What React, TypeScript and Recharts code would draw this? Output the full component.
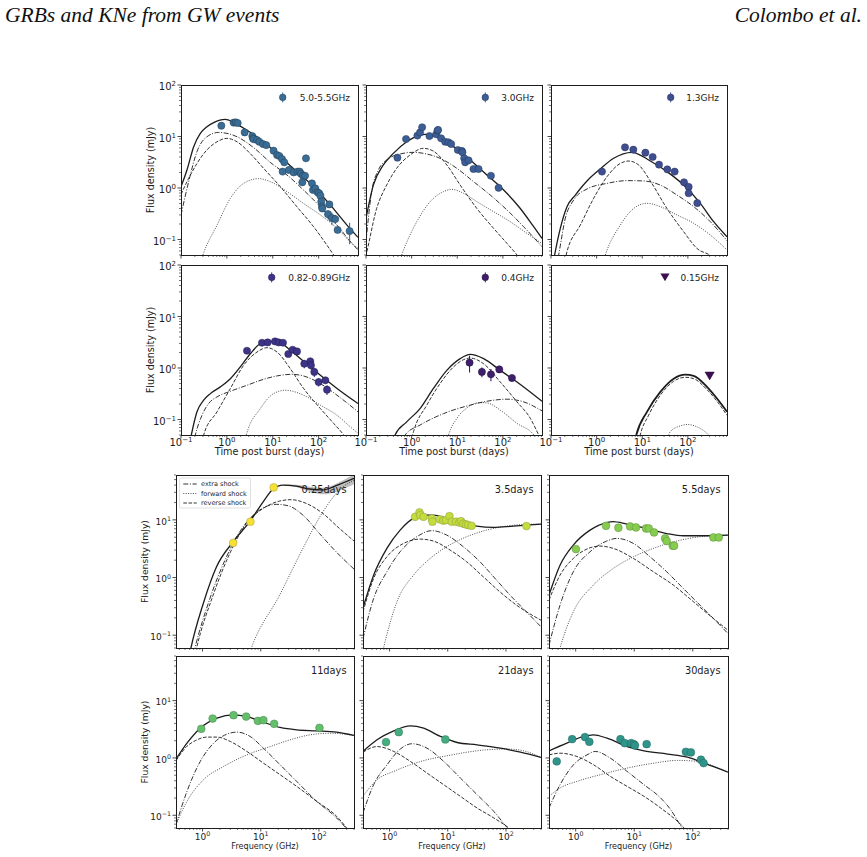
import React from 'react';
import { ComposedChart, Line, Scatter, XAxis, YAxis, ErrorBar, Area } from 'recharts';

type Pt = [number, number];
type Obs = [number, number, number?];

// ---------- light curves (days, mJy) ----------
// 5.0-5.5 GHz
const lc5Total: Pt[] = [[0.1, 1.06], [0.135, 2.23], [0.189, 6.35], [0.264, 11.5], [0.368, 15.5], [0.515, 18.6], [0.92, 21.5], [1.66, 17.2], [2.7, 13.4], [6.3, 7.9], [14.6, 4.05], [33.7, 2.07], [77.6, 1.06], [179, 0.47], [414, 0.19], [720, 0.11]];
const lc5Extra: Pt[] = [[0.1, 0.3], [0.147, 1.33], [0.223, 5.1], [0.368, 9.9], [0.66, 12.0], [1.66, 9.9], [3.83, 6.07], [8.8, 3.15], [20.4, 1.79], [47, 0.91], [109, 0.43], [251, 0.19], [532, 0.084], [720, 0.063]];
const lc5Rev: Pt[] = [[0.1, 0.75], [0.147, 1.54], [0.223, 3.0], [0.368, 5.5], [0.61, 7.9], [1.0, 9.2], [1.66, 7.9], [3.2, 4.7], [6.3, 2.41], [14.6, 1.06], [33.7, 0.43], [77.6, 0.177], [151, 0.078], [212, 0.05], [400, 0.02]];
const lc5Fwd: Pt[] = [[0.25, 0.03], [0.3, 0.05], [0.61, 0.19], [1.19, 0.63], [2.32, 1.23], [4.9, 1.52], [8.8, 1.33], [20.4, 0.85], [47, 0.5], [109, 0.3], [251, 0.165], [532, 0.084], [720, 0.067]];
const ob5: Obs[] = [[0.757, 16.2], [1.4, 18.6], [1.55, 18.8], [1.72, 18.3], [2.44, 12.0], [3.58, 10.2], [3.7, 9.2], [3.8, 8.9], [4.53, 8.55], [5.09, 7.9], [6.12, 7.15], [7.23, 6.8], [10.4, 5.3], [12.4, 4.37], [13.9, 4.18], [15.9, 3.66], [17.8, 3.15], [16.4, 2.08], [22.5, 2.24], [28.5, 2.01], [34.8, 2.08], [38.5, 2.08], [41.1, 1.9], [45.5, 1.73], [52.9, 3.77], [50.5, 1.73], [44, 1.29], [71.4, 1.23], [75.1, 0.915], [84.5, 0.987], [95, 0.824], [103, 0.787], [109, 0.71], [114, 0.543], [118, 0.434], [120, 0.4], [171, 0.48], [160, 0.31, 0.06], [195, 0.26, 0.07], [230, 0.25, 0.05], [259, 0.153], [473, 0.146, 0.065]];

// 3.0 GHz
const lc3Total: Pt[] = [[0.1, 0.258], [0.145, 1.14], [0.24, 2.8], [0.398, 4.7], [0.78, 7.9], [1.3, 10.2], [1.98, 11.0], [3.56, 9.9], [8.3, 6.35], [19.2, 3.5], [44.7, 1.79], [104, 0.915], [241, 0.4], [473, 0.177], [720, 0.105]];
const lc3Extra: Pt[] = [[0.1, 0.091], [0.133, 0.85], [0.187, 2.24], [0.284, 3.5], [0.558, 4.57], [1.1, 4.93], [2.15, 4.57], [4.2, 3.77], [9.8, 2.41], [22.7, 1.33], [52.9, 0.73], [123, 0.374], [285, 0.177], [720, 0.0726]];
const lc3Rev: Pt[] = [[0.085, 0.03], [0.1, 0.05], [0.171, 0.4], [0.284, 1.14], [0.47, 2.41], [0.925, 4.37], [1.81, 5.9], [3.0, 5.2], [5.9, 2.8], [11.6, 1.14], [26.9, 0.4], [62.5, 0.165], [123, 0.084], [204, 0.05], [350, 0.025]];
const lc3Fwd: Pt[] = [[0.5, 0.03], [0.607, 0.05], [1.3, 0.222], [2.55, 0.543], [5.0, 0.85], [7.6, 0.94], [13.7, 0.79], [26.9, 0.543], [62.5, 0.347], [145, 0.222], [337, 0.131], [720, 0.084]];
const ob3: Obs[] = [[0.488, 3.88], [0.755, 8.94], [1.34, 10.4], [1.53, 12.0], [1.7, 15.1], [2.46, 10.2], [3.45, 11.0], [3.69, 13.0], [3.8, 13.4], [4.43, 9.2], [5.43, 7.9], [6.43, 7.7], [7.36, 7.15], [10.3, 5.47], [12.6, 5.24], [13.0, 4.93], [14.2, 3.77], [14.9, 3.15], [17.7, 3.44], [22.7, 2.34], [29.3, 2.34], [54.7, 1.73], [80.5, 1.01]];

// 1.3 GHz
const lc13Total: Pt[] = [[0.1, 0.02], [0.12, 0.05], [0.16, 0.165], [0.224, 0.434], [0.341, 0.73], [0.615, 1.37], [1.2, 2.34], [2.36, 3.77], [5.96, 4.93], [15, 3.34], [34.8, 2.08], [80.7, 1.14], [187, 0.504], [367, 0.222], [720, 0.113]];
const lc13Extra: Pt[] = [[0.12, 0.02], [0.147, 0.05], [0.206, 0.258], [0.314, 0.585], [0.615, 0.956], [1.69, 1.23], [4.62, 1.39], [10.7, 1.37], [24.9, 1.14], [57.7, 0.73], [134, 0.434], [310, 0.222], [720, 0.095]];
const lc13Rev: Pt[] = [[0.18, 0.025], [0.224, 0.058], [0.44, 0.191], [0.86, 0.63], [1.69, 1.66], [3.3, 3.01], [5.03, 3.34], [8.35, 2.8], [15, 1.37], [34.8, 0.4], [80.7, 0.142], [158, 0.067], [337, 0.046], [500, 0.03]];
const lc13Fwd: Pt[] = [[1.3, 0.03], [1.55, 0.05], [3.3, 0.19], [6.47, 0.4], [12.7, 0.504], [24.9, 0.434], [57.7, 0.3], [134, 0.206], [310, 0.122], [720, 0.0625]];
const ob13: Obs[] = [[1.31, 2.08], [4.19, 6.17], [6.37, 5.55], [11.7, 4.85], [16.9, 4.0], [23.3, 2.84], [35.4, 2.3], [51.3, 2.08], [82.2, 1.29], [104, 1.05], [104, 0.79], [161, 0.51]];

// 0.82-0.89 GHz
const lc08Total: Pt[] = [[0.15, 0.03], [0.168, 0.05], [0.223, 0.141], [0.312, 0.237], [0.436, 0.318], [0.72, 0.43], [1.19, 0.62], [1.96, 1.05], [3.24, 1.89], [5.35, 2.96], [8.83, 3.28], [14.6, 3.09], [24.1, 2.2], [47, 1.35], [109, 0.72], [251, 0.4], [720, 0.204]];
const lc08Extra: Pt[] = [[0.18, 0.03], [0.205, 0.05], [0.287, 0.121], [0.4, 0.204], [0.61, 0.275], [1.19, 0.353], [2.74, 0.462], [6.33, 0.604], [14.6, 0.72], [26.2, 0.754], [47, 0.7], [109, 0.498], [251, 0.296], [720, 0.141]];
const lc08Rev: Pt[] = [[0.27, 0.03], [0.312, 0.05], [0.61, 0.141], [1.19, 0.4], [2.32, 1.13], [4.53, 2.04], [7.48, 2.48], [12.4, 2.04], [24.1, 0.97], [47, 0.4], [109, 0.163], [212, 0.084], [350, 0.05], [500, 0.03]];
const lc08Fwd: Pt[] = [[2.3, 0.03], [2.65, 0.05], [5.35, 0.163], [10.4, 0.318], [18.7, 0.37], [47, 0.296], [109, 0.19], [251, 0.121], [489, 0.072], [720, 0.054]];
const ob08: Obs[] = [[2.74, 2.16], [5.82, 3.09], [7.73, 3.14], [11.2, 3.28], [13.4, 3.14], [16.7, 3.09], [21.8, 1.87], [27.1, 2.26], [33.7, 2.1], [48.6, 1.21, 0.22], [65.7, 1.35], [67.9, 1.13, 0.2], [80.4, 0.84, 0.17], [99.8, 0.535, 0.1], [140, 0.577], [152, 0.38, 0.08]];

// 0.4 GHz
const lc04Total: Pt[] = [[0.38, 0.03], [0.434, 0.05], [0.78, 0.09], [1.53, 0.163], [3.0, 0.4], [5.9, 0.9], [11.6, 1.52], [19.2, 1.84], [37.8, 1.52], [87.7, 0.9], [204, 0.535], [720, 0.226]];
const lc04Extra: Pt[] = [[0.6, 0.03], [0.72, 0.05], [1.53, 0.078], [5, 0.13], [19.2, 0.19], [62.5, 0.237], [123, 0.248], [285, 0.22], [720, 0.147]];
const lc04Rev: Pt[] = [[0.95, 0.035], [1.1, 0.058], [2.15, 0.19], [4.2, 0.498], [8.28, 1.05], [13.7, 1.45], [19.2, 1.56], [37.8, 1.21], [87.7, 0.535], [204, 0.22], [400, 0.105], [610, 0.05], [800, 0.03]];
const lc04Fwd: Pt[] = [[5.5, 0.03], [6.43, 0.05], [9.8, 0.105], [16.3, 0.168], [31.9, 0.213], [44.7, 0.21], [87.7, 0.152], [204, 0.084], [473, 0.05], [600, 0.035]];
const ob04: Obs[] = [[18.6, 1.27, 0.45], [34.7, 0.84, 0.18], [54.7, 0.754, 0.2], [83.4, 0.94, 0.08], [158, 0.64, 0.1]];

// 0.15 GHz
const lc015Total: Pt[] = [[6.5, 0.03], [7.41, 0.05], [12.7, 0.141], [24.9, 0.343], [48.8, 0.62], [87.9, 0.743], [134, 0.7], [262, 0.43], [435, 0.255], [720, 0.141]];
const lc015Rev: Pt[] = [[8, 0.03], [9.05, 0.05], [13.8, 0.121], [24.9, 0.296], [48.8, 0.552], [87.9, 0.66], [134, 0.62], [262, 0.38], [435, 0.226], [720, 0.121]];
const lc015Fwd: Pt[] = [[35, 0.04], [41.2, 0.058], [68.2, 0.075], [95.5, 0.08], [158, 0.072], [285, 0.05], [350, 0.04]];
const ob015: Obs[] = [[300, 0.7]];

// ---------- spectra (GHz, mJy) ----------
// 0.25 days
const sp025Total: Pt[] = [[0.55, 0.03], [0.632, 0.06], [1.03, 0.355], [1.74, 1.54], [3.36, 4.18], [6.47, 9.3], [11.0, 20.6], [16.3, 34.3], [24.1, 40.2], [40.8, 38.6], [68.9, 34.3], [117, 33], [197, 39.2], [400, 52.5]];
const sp025Extra: Pt[] = [[0.65, 0.035], [0.74, 0.06], [1.34, 0.434], [2.58, 2.29], [4.98, 7.6], [9.6, 14.8], [18.5, 18.6], [29.4, 17.6], [53, 12.1], [102, 5.8], [197, 2.8], [400, 1.4]];
const sp025Rev: Pt[] = [[0.7, 0.035], [0.79, 0.06], [1.52, 0.495], [2.94, 2.62], [5.68, 8.7], [11, 15.8], [21.1, 21.2], [33.5, 22.4], [60.4, 19.3], [117, 12.9], [225, 7.1], [400, 4.3]];
const sp025Fwd: Pt[] = [[6, 0.04], [6.9, 0.06], [21.1, 0.495], [53, 3.2], [117, 13.8], [225, 33], [400, 49]];
const sp025Band: [number, number, number][] = [[25, 39.6, 41], [40, 37, 40.5], [70, 30.8, 37.6], [120, 27.7, 36.1], [200, 30.8, 42.9], [400, 41.3, 61.6]];
const so025: Obs[] = [[3.36, 4.0], [6.65, 9.3], [16.7, 36.6, 6]];

// 3.5 days
const sp35Total: Pt[] = [[0.35, 0.298], [0.533, 1.1], [0.9, 3.2], [1.52, 6.65], [2.58, 10.6], [4.37, 12.1], [5.68, 12.1], [9.6, 10.6], [16.3, 9.0], [31.3, 7.8], [60.4, 7.4], [133, 7.8], [400, 8.45]];
const sp35Extra: Pt[] = [[0.35, 0.0875], [0.533, 0.434], [0.9, 1.26], [1.52, 2.8], [2.94, 5.1], [5.32, 6.5], [9.6, 5.45], [18.5, 3.42], [35.7, 1.88], [69, 0.9], [133, 0.434], [225, 0.254], [400, 0.14]];
const sp35Rev: Pt[] = [[0.35, 0.254], [0.533, 0.964], [0.9, 2.29], [1.74, 3.9], [3.36, 4.64], [5.68, 4.29], [11, 2.99], [21.1, 1.88], [40.8, 1.03], [78.5, 0.566], [152, 0.332], [400, 0.182]];
const sp35Fwd: Pt[] = [[0.7, 0.035], [0.79, 0.06], [1.34, 0.38], [2.58, 1.1], [4.98, 2.14], [9.6, 3.42], [21.1, 5.1], [46.5, 6.65], [102, 7.8], [225, 8.35], [400, 8.45]];
const so35: Obs[] = [[2.75, 11.3], [3.27, 13.5], [3.36, 12.1], [3.83, 11.3], [5.32, 10.6], [5.46, 9.3], [7.38, 10.2], [8.41, 9.7], [9.35, 9.9], [10.7, 11.6], [11.7, 9.3], [13.9, 9.3], [15.8, 9.0], [16.9, 9.5], [18.5, 8.6], [20.6, 8.35], [22.5, 8.1], [25.7, 7.9], [225, 7.8]];

// 5.5 days
const sp55Total: Pt[] = [[0.35, 0.495], [0.54, 1.64], [0.91, 3.66], [1.76, 6.65], [3.39, 9.0], [4.4, 9.3], [7.45, 8.45], [16.4, 7.1], [35.9, 5.8], [69, 5.3], [173, 5.3], [400, 5.45]];
const sp55Extra: Pt[] = [[0.35, 0.067], [0.54, 0.332], [0.91, 1.26], [1.76, 2.8], [3.39, 4.29], [5.02, 4.77], [9.7, 3.9], [18.6, 2.29], [35.9, 1.26], [69, 0.646], [133, 0.332], [225, 0.195], [400, 0.107]];
const sp55Rev: Pt[] = [[0.35, 0.406], [0.54, 1.1], [0.91, 2.14], [1.76, 3.28], [2.6, 3.51], [4.4, 3.2], [9.7, 2.14], [21.2, 1.26], [46.7, 0.738], [103, 0.38], [225, 0.195], [400, 0.122]];
const sp55Fwd: Pt[] = [[0.45, 0.03], [0.54, 0.06], [0.91, 0.254], [2.0, 0.738], [4.4, 1.44], [9.7, 2.29], [21.2, 3.2], [53.2, 4.29], [133, 5.1], [400, 5.45]];
const so55: Obs[] = [[1.01, 3.11], [3.3, 7.9], [5.36, 7.3], [8.5, 7.7], [10.7, 7.4], [15.9, 7.1], [17.7, 7.1], [21.8, 6.06], [33.7, 4.77], [35.9, 4.29], [45.5, 3.56], [48, 3.56], [225, 4.96], [278, 4.96]];

// 11 days
const sp11Total: Pt[] = [[0.35, 0.95], [0.54, 1.81], [0.914, 3.3], [1.77, 4.93], [3.41, 5.64], [5.77, 5.27], [11.1, 4.2], [21.5, 3.4], [41.5, 3.09], [91.4, 2.97], [201, 2.82], [400, 2.47]];
const sp11Extra: Pt[] = [[0.35, 0.069], [0.54, 0.261], [0.914, 0.87], [1.55, 1.81], [2.62, 2.6], [3.89, 2.82], [6.58, 2.37], [11.1, 1.48], [21.5, 0.76], [41.5, 0.39], [91.4, 0.175], [201, 0.09], [291, 0.06], [400, 0.04]];
const sp11Rev: Pt[] = [[0.35, 0.9], [0.54, 1.6], [0.75, 2.0], [1.19, 2.31], [1.77, 2.31], [2.99, 1.94], [5.77, 1.3], [11.1, 0.813], [21.5, 0.51], [41.5, 0.319], [91.4, 0.175], [201, 0.096], [299, 0.06], [400, 0.04]];
const sp11Fwd: Pt[] = [[0.35, 0.069], [0.54, 0.175], [1.04, 0.417], [2.3, 0.71], [5.77, 1.13], [14.5, 1.58], [31.9, 2.07], [70.3, 2.53], [155, 2.7], [400, 2.47]];
const so11: Obs[] = [[0.95, 3.22], [1.49, 4.87], [3.41, 5.57], [5.62, 5.27], [8.9, 4.43], [11.1, 4.56], [17, 3.94], [102, 3.35]];

// 21 days
const sp21Total: Pt[] = [[0.35, 1.3], [0.61, 2.07], [1.18, 2.97], [2.28, 3.63], [3.86, 3.3], [7.48, 2.37], [14.5, 1.86], [31.9, 1.69], [80.4, 1.48], [177, 1.26], [400, 1.02]];
const sp21Extra: Pt[] = [[0.35, 0.11], [0.533, 0.341], [0.906, 0.76], [1.53, 1.43], [2.43, 1.77], [4.4, 1.48], [8.53, 0.87], [16.5, 0.446], [31.9, 0.229], [61.7, 0.117], [105, 0.061], [180, 0.035]];
const sp21Rev: Pt[] = [[0.35, 1.26], [0.61, 1.58], [1.18, 1.3], [2.28, 0.87], [4.4, 0.545], [8.53, 0.341], [16.5, 0.214], [31.9, 0.134], [61.7, 0.09], [112, 0.06], [200, 0.035]];
const sp21Fwd: Pt[] = [[0.35, 0.214], [0.61, 0.417], [1.18, 0.582], [2.28, 0.76], [4.4, 0.93], [9.7, 1.09], [21.5, 1.26], [47.4, 1.39], [105, 1.43], [202, 1.33], [400, 1.02]];
const so21: Obs[] = [[0.87, 1.89], [1.44, 2.82], [9.1, 2.1]];

// 30 days
const sp30Total: Pt[] = [[0.35, 1.33], [0.705, 1.81], [1.36, 2.37], [2.02, 2.53], [3.43, 2.21], [7.57, 1.58], [14.7, 1.33], [36.9, 1.17], [81.5, 1.03], [157, 0.813], [400, 0.567]];
const sp30Extra: Pt[] = [[0.35, 0.134], [0.54, 0.341], [0.917, 0.76], [1.56, 1.13], [2.16, 1.3], [3.92, 0.99], [7.57, 0.582], [14.7, 0.341], [28.3, 0.2], [42, 0.125], [62.5, 0.065], [90, 0.035]];
const sp30Rev: Pt[] = [[0.35, 1.13], [0.54, 1.21], [1.05, 1.06], [2.02, 0.76], [3.92, 0.476], [7.57, 0.319], [14.7, 0.214], [28.3, 0.134], [62.5, 0.069], [100, 0.04]];
const sp30Fwd: Pt[] = [[0.35, 0.214], [0.54, 0.299], [1.05, 0.39], [2.64, 0.51], [7.57, 0.665], [21.8, 0.813], [54.8, 0.905], [121, 0.87], [234, 0.711], [400, 0.567]];
const so30: Obs[] = [[0.474, 0.87, 0.12], [0.87, 2.13], [1.44, 2.31], [1.71, 1.91], [5.82, 2.13], [6.9, 1.81], [8.87, 1.81], [9.87, 1.74], [10.3, 1.65], [16.3, 1.74], [76.3, 1.28], [92.9, 1.25], [138, 0.93], [153, 0.813]];

// ---------- axes ----------
const tDomain: Pt = [0.1, 720];
const tFluxDomain: Pt = [0.05, 100];
const nuDomain: Pt = [0.35, 400];
const nuFluxDomain: Pt = [0.06, 60];

const tTicks = [0.1, 0.2, 0.3, 0.4, 0.5, 0.6, 0.7, 0.8, 0.9, 1, 2, 3, 4, 5, 6, 7, 8, 9, 10, 20, 30, 40, 50, 60, 70, 80, 90, 100, 200, 300, 400, 500, 600, 700];
const tFluxTicks = [0.05, 0.06, 0.07, 0.08, 0.09, 0.1, 0.2, 0.3, 0.4, 0.5, 0.6, 0.7, 0.8, 0.9, 1, 2, 3, 4, 5, 6, 7, 8, 9, 10, 20, 30, 40, 50, 60, 70, 80, 90, 100];
const nuTicks = [0.4, 0.5, 0.6, 0.7, 0.8, 0.9, 1, 2, 3, 4, 5, 6, 7, 8, 9, 10, 20, 30, 40, 50, 60, 70, 80, 90, 100, 200, 300, 400];
const nuFluxTicks = [0.06, 0.07, 0.08, 0.09, 0.1, 0.2, 0.3, 0.4, 0.5, 0.6, 0.7, 0.8, 0.9, 1, 2, 3, 4, 5, 6, 7, 8, 9, 10, 20, 30, 40, 50, 60];

const INK = '#1c1c1c';
const FONT = 'DejaVu Sans';
const ML = 44;
const MT = 10;
const MR = 12;
const MB = 28;

const isDecade = (v: number) => {
  const l = Math.log10(v);
  return Math.abs(l - Math.round(l)) < 1e-6;
};
const expText = (v: number) => {
  const e = Math.round(Math.log10(v));
  return e < 0 ? `\u2212${-e}` : `${e}`;
};

const xTick = (labels: boolean, fs: number, dy: number) => (p: any) => {
  const v = p.payload.value;
  const major = isDecade(v);
  const len = major ? 3.5 : 2;
  return (
    <g>
      <line x1={p.x} x2={p.x} y1={p.y} y2={p.y + len} stroke={INK} strokeWidth={major ? 0.8 : 0.6} />
      {labels && major && (
        <text x={p.x} y={p.y + dy} textAnchor="middle" fontSize={fs} fontFamily={FONT} fill={INK}>
          10<tspan dy={-fs * 0.4} fontSize={fs * 0.7}>{expText(v)}</tspan>
        </text>
      )}
    </g>
  );
};

const yTick = (labels: boolean, fs: number) => (p: any) => {
  const v = p.payload.value;
  const major = isDecade(v);
  const len = major ? 3.5 : 2;
  return (
    <g>
      <line x1={p.x - len} x2={p.x} y1={p.y} y2={p.y} stroke={INK} strokeWidth={major ? 0.8 : 0.6} />
      {labels && major && (
        <text x={p.x - 5} y={p.y + fs * 0.53} textAnchor="end" fontSize={fs} fontFamily={FONT} fill={INK}>
          10<tspan dy={-fs * 0.4} fontSize={fs * 0.7}>{expText(v)}</tspan>
        </text>
      )}
    </g>
  );
};

const rows = (pts: Pt[]) => pts.map(([x, y]) => ({ x, y }));
const obsRows = (pts: Obs[]) => pts.map(([x, y, e]) => ({ x, y, err: e ?? 0 }));

interface PanelCfg {
  x: number;
  y: number;
  w: number;
  h: number;
  total: Pt[];
  extra?: Pt[];
  rev: Pt[];
  fwd: Pt[];
  obs: Obs[];
  color: string;
  edge: string;
  label: string;
  mark?: number; // legend marker offset from right edge
  triangle?: boolean;
  band?: [number, number, number][];
  yLabels: boolean;
  xLabels: boolean;
  thick?: boolean;
}

const lcPanels: PanelCfg[] = [
  { x: 181, y: 85, w: 177, h: 170, total: lc5Total, extra: lc5Extra, rev: lc5Rev, fwd: lc5Fwd, obs: ob5, color: '#396d95', edge: '#233f57', label: '5.0-5.5GHz', mark: 75.3, yLabels: true, xLabels: false },
  { x: 366, y: 85, w: 176, h: 170, total: lc3Total, extra: lc3Extra, rev: lc3Rev, fwd: lc3Fwd, obs: ob3, color: '#3d5d96', edge: '#233758', label: '3.0GHz', mark: 56.7, yLabels: false, xLabels: false },
  { x: 551, y: 85, w: 176, h: 170, total: lc13Total, extra: lc13Extra, rev: lc13Rev, fwd: lc13Fwd, obs: ob13, color: '#3f4e90', edge: '#252e56', label: '1.3GHz', mark: 56.3, yLabels: false, xLabels: false },
  { x: 181, y: 265, w: 177, h: 170, total: lc08Total, extra: lc08Extra, rev: lc08Rev, fwd: lc08Fwd, obs: ob08, color: '#3d3488', edge: '#231d52', label: '0.82-0.89GHz', mark: 86.3, yLabels: true, xLabels: true },
  { x: 366, y: 265, w: 176, h: 170, total: lc04Total, extra: lc04Extra, rev: lc04Rev, fwd: lc04Fwd, obs: ob04, color: '#3f1e6c', edge: '#26113f', label: '0.4GHz', mark: 56.7, yLabels: false, xLabels: true },
  { x: 551, y: 265, w: 176, h: 170, total: lc015Total, rev: lc015Rev, fwd: lc015Fwd, obs: ob015, color: '#3c0f52', edge: '#22082f', label: '0.15GHz', mark: 62, triangle: true, yLabels: false, xLabels: true, thick: true },
];

const spPanels: PanelCfg[] = [
  { x: 176, y: 475, w: 178, h: 173, total: sp025Total, extra: sp025Extra, rev: sp025Rev, fwd: sp025Fwd, obs: so025, band: sp025Band, color: '#f6e133', edge: '#a99c4c', label: '0.25days', yLabels: true, xLabels: false },
  { x: 363, y: 475, w: 178, h: 173, total: sp35Total, extra: sp35Extra, rev: sp35Rev, fwd: sp35Fwd, obs: so35, color: '#c4dc3c', edge: '#8d9a4a', label: '3.5days', yLabels: false, xLabels: false },
  { x: 549, y: 475, w: 179, h: 173, total: sp55Total, extra: sp55Extra, rev: sp55Rev, fwd: sp55Fwd, obs: so55, color: '#86cd4f', edge: '#5f8d45', label: '5.5days', yLabels: false, xLabels: false },
  { x: 176, y: 656, w: 178, h: 172, total: sp11Total, extra: sp11Extra, rev: sp11Rev, fwd: sp11Fwd, obs: so11, color: '#63bf6a', edge: '#4a8552', label: '11days', yLabels: true, xLabels: true },
  { x: 363, y: 656, w: 178, h: 172, total: sp21Total, extra: sp21Extra, rev: sp21Rev, fwd: sp21Fwd, obs: so21, color: '#45ad7e', edge: '#33775c', label: '21days', yLabels: false, xLabels: true },
  { x: 549, y: 656, w: 179, h: 172, total: sp30Total, extra: sp30Extra, rev: sp30Rev, fwd: sp30Fwd, obs: so30, color: '#2f948a', edge: '#246760', label: '30days', yLabels: false, xLabels: true },
];

const DASHDOT = '5 1.6 1 1.6';
const DASHED = '3.6 1.6';
const DOTTED = '1 1.4';

function Panel({ cfg, spectrum }: { cfg: PanelCfg; spectrum: boolean }) {
  const xDom = spectrum ? nuDomain : tDomain;
  const yDom = spectrum ? nuFluxDomain : tFluxDomain;
  const xt = spectrum ? nuTicks : tTicks;
  const yt = spectrum ? nuFluxTicks : tFluxTicks;
  const tickFs = spectrum ? 9 : 10;
  const pts = obsRows(cfg.obs);
  const hasErr = cfg.obs.some((o) => (o[2] ?? 0) > 0);
  const marker = (p: any) => {
    if (p.cx == null || p.cy == null) return <g />;
    if (cfg.triangle) {
      const s = 4.6;
      return <polygon points={`${p.cx - s},${p.cy - s * 0.85} ${p.cx + s},${p.cy - s * 0.85} ${p.cx},${p.cy + s * 0.85}`} fill={cfg.color} stroke={cfg.edge} strokeWidth={0.5} />;
    }
    return <circle cx={p.cx} cy={p.cy} r={spectrum ? 3.9 : 3.6} fill={cfg.color} stroke={cfg.edge} strokeWidth={0.5} />;
  };
  return (
    <div style={{ position: 'absolute', left: cfg.x - ML, top: cfg.y - MT }}>
      <ComposedChart width={ML + cfg.w + MR} height={MT + cfg.h + MB} margin={{ top: MT, right: MR, left: 0, bottom: 0 }}>
        <XAxis
          dataKey="x"
          type="number"
          scale="log"
          domain={xDom}
          allowDataOverflow
          ticks={xt}
          interval={0}
          tickSize={0}
          tickMargin={0}
          axisLine={false}
          tickLine={false}
          height={MB}
          tick={xTick(cfg.xLabels, tickFs, spectrum ? 11.5 : 11)}
        />
        <YAxis
          dataKey="y"
          type="number"
          scale="log"
          domain={yDom}
          allowDataOverflow
          ticks={yt}
          interval={0}
          tickSize={0}
          tickMargin={0}
          axisLine={false}
          tickLine={false}
          width={ML}
          tick={yTick(cfg.yLabels, tickFs)}
        />
        {cfg.band && (
          <Area
            data={cfg.band.map(([x, lo, hi]) => ({ x, band: [lo, hi] }))}
            dataKey="band"
            type="monotone"
            stroke="none"
            fill="#aaaaaa"
            fillOpacity={0.75}
            isAnimationActive={false}
          />
        )}
        <Line data={rows(cfg.fwd)} dataKey="y" type="monotone" stroke="#3a3a3a" strokeWidth={0.9} strokeDasharray={DOTTED} dot={false} activeDot={false} isAnimationActive={false} />
        {cfg.extra && (
          <Line data={rows(cfg.extra)} dataKey="y" type="monotone" stroke={INK} strokeWidth={0.9} strokeDasharray={DASHDOT} dot={false} activeDot={false} isAnimationActive={false} />
        )}
        <Line data={rows(cfg.rev)} dataKey="y" type="monotone" stroke={INK} strokeWidth={0.9} strokeDasharray={DASHED} dot={false} activeDot={false} isAnimationActive={false} />
        <Line data={rows(cfg.total)} dataKey="y" type="monotone" stroke={INK} strokeWidth={cfg.thick ? 1.8 : 1.3} dot={false} activeDot={false} isAnimationActive={false} />
        <Scatter data={pts} dataKey="y" shape={marker} isAnimationActive={false}>
          {hasErr && <ErrorBar dataKey="err" direction="y" width={0} stroke={cfg.color} strokeWidth={1.1} />}
        </Scatter>
      </ComposedChart>
    </div>
  );
}

function LcLegend({ cfg }: { cfg: PanelCfg }) {
  const right = cfg.x + cfg.w - 8;
  const cy = cfg.y + 12.4;
  const mx = cfg.x + cfg.w - (cfg.mark ?? 60);
  return (
    <g>
      {cfg.triangle ? (
        <polygon points={`${mx - 4.6},${cy - 3.9} ${mx + 4.6},${cy - 3.9} ${mx},${cy + 3.9}`} fill={cfg.color} />
      ) : (
        <g>
          <line x1={mx} x2={mx} y1={cy - 5} y2={cy + 5} stroke={cfg.color} strokeWidth={1} />
          <circle cx={mx} cy={cy} r={3.3} fill={cfg.color} stroke={cfg.edge} strokeWidth={0.5} />
        </g>
      )}
      <text x={right} y={cy + 3.3} textAnchor="end" fontSize={9} fontFamily={FONT} fill={INK}>
        {cfg.label}
      </text>
    </g>
  );
}

function Overlay() {
  const frames = [...lcPanels, ...spPanels];
  return (
    <svg width={867} height={857} style={{ position: 'absolute', left: 0, top: 0, pointerEvents: 'none' }}>
      <text x={5} y={21.5} fontFamily="Liberation Serif" fontStyle="italic" fontSize={21.5} fill="#111">
        GRBs and KNe from GW events
      </text>
      <text x={862} y={21.5} textAnchor="end" fontFamily="Liberation Serif" fontStyle="italic" fontSize={21.5} fill="#111">
        Colombo et al.
      </text>

      {frames.map((f, i) => (
        <rect key={i} x={f.x} y={f.y} width={f.w} height={f.h} fill="none" stroke={INK} strokeWidth={1} shapeRendering="crispEdges" />
      ))}

      {lcPanels.map((p, i) => (
        <LcLegend key={i} cfg={p} />
      ))}

      {spPanels.map((p, i) => (
        <text key={i} x={p.x + p.w - 7.5} y={p.y + 18} textAnchor="end" fontSize={9.8} fontFamily={FONT} fill={INK}>
          {p.label}
        </text>
      ))}

      {/* y-axis titles */}
      {[170, 350].map((cy) => (
        <text key={cy} transform={`translate(153.5 ${cy}) rotate(-90)`} textAnchor="middle" fontSize={9.6} fontFamily={FONT} fill={INK}>
          Flux density (mJy)
        </text>
      ))}
      {[561.5, 742].map((cy) => (
        <text key={cy} transform={`translate(148.3 ${cy}) rotate(-90)`} textAnchor="middle" fontSize={9.2} fontFamily={FONT} fill={INK}>
          Flux density (mJy)
        </text>
      ))}

      {/* x-axis titles */}
      {lcPanels.slice(3).map((p, i) => (
        <text key={i} x={p.x + p.w / 2} y={455.3} textAnchor="middle" fontSize={9.7} fontFamily={FONT} fill={INK}>
          Time post burst (days)
        </text>
      ))}
      {spPanels.slice(3).map((p, i) => (
        <text key={i} x={p.x + p.w / 2} y={848.6} textAnchor="middle" fontSize={8.1} fontFamily={FONT} fill={INK}>
          Frequency (GHz)
        </text>
      ))}

      {/* line-style key */}
      <g>
        <rect x={179.5} y={478} width={71} height={30} rx={1.5} fill="#fff" fillOpacity={0.85} stroke="#cccccc" strokeWidth={0.6} />
        <line x1={183.3} x2={196.7} y1={484} y2={484} stroke={INK} strokeWidth={0.9} strokeDasharray={DASHDOT} />
        <line x1={183.3} x2={196.7} y1={493.5} y2={493.5} stroke="#3a3a3a" strokeWidth={0.9} strokeDasharray={DOTTED} />
        <line x1={183.3} x2={196.7} y1={503} y2={503} stroke={INK} strokeWidth={0.9} strokeDasharray={DASHED} />
        <text x={201} y={486.3} fontSize={6.5} fontFamily={FONT} fill={INK}>extra shock</text>
        <text x={201} y={495.8} fontSize={6.5} fontFamily={FONT} fill={INK}>forward shock</text>
        <text x={201} y={505.3} fontSize={6.5} fontFamily={FONT} fill={INK}>reverse shock</text>
      </g>
    </svg>
  );
}

export default function App() {
  return (
    <div style={{ position: 'absolute', left: 0, top: 0, width: 867, height: 857, background: '#fff', overflow: 'hidden' }}>
      {lcPanels.map((p, i) => (
        <Panel key={`lc${i}`} cfg={p} spectrum={false} />
      ))}
      {spPanels.map((p, i) => (
        <Panel key={`sp${i}`} cfg={p} spectrum />
      ))}
      <Overlay />
    </div>
  );
}
